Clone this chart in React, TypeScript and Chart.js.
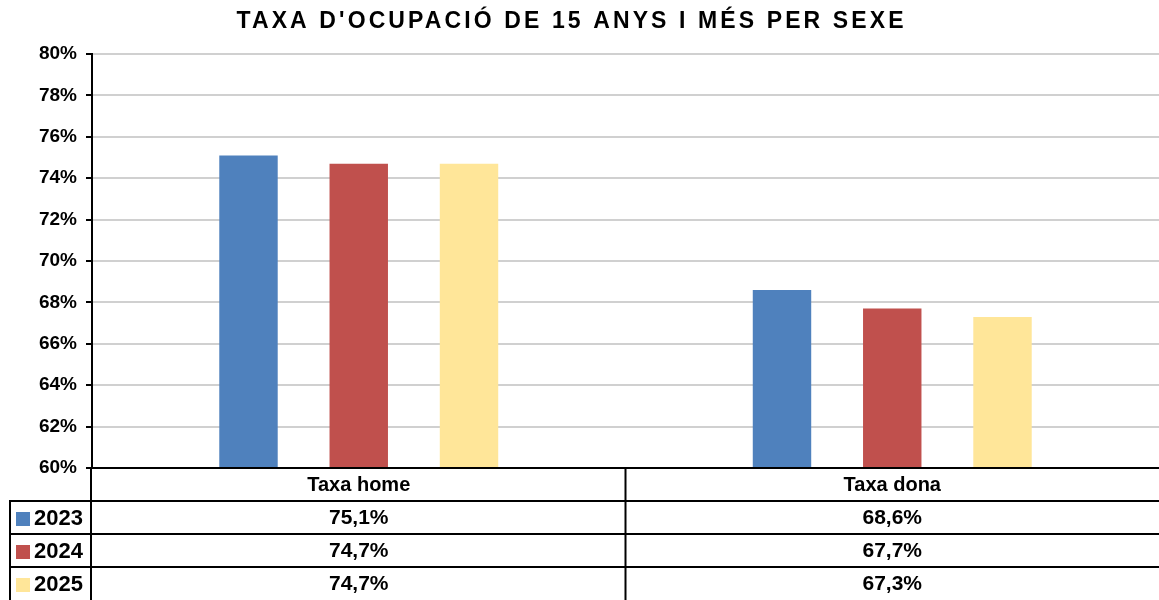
import { useEffect, useRef } from 'react';
import { Chart, registerables } from 'chart.js';

Chart.register(...registerables);

const TITLE = "TAXA D'OCUPACIÓ DE 15 ANYS I MÉS PER SEXE";
const categories = ['Taxa home', 'Taxa dona'];
const seriesLabels = ['2023', '2024', '2025'];
const values2023 = [75.1, 68.6];
const values2024 = [74.7, 67.7];
const values2025 = [74.7, 67.3];
const seriesValues = [values2023, values2024, values2025];
const seriesColors = ['#4F81BD', '#C0504D', '#FFE699'];
const yMin = 60;
const yMax = 80;
const yStep = 2;

const FONT = '"Liberation Sans", Arial, sans-serif';

const fmt = (v: number) => v.toFixed(1).replace('.', ',') + '%';

const tablePlugin = {
  id: 'tablePlugin',
  afterDraw(chart: any) {
    const ctx = chart.ctx as CanvasRenderingContext2D;
    const { left, bottom } = chart.chartArea;
    const xs = chart.scales.x;
    const W = chart.width;
    const H = chart.height;

    // Title with letter spacing
    ctx.save();
    ctx.font = `bold 23px ${FONT}`;
    ctx.fillStyle = '#000';
    ctx.textBaseline = 'alphabetic';
    ctx.textAlign = 'left';
    (ctx as any).letterSpacing = '0px';
    const natural = ctx.measureText(TITLE).width;
    const targetW = 667;
    const n = TITLE.length;
    const ls = (targetW - natural) / (n - 1);
    (ctx as any).letterSpacing = `${ls}px`;
    ctx.fillText(TITLE, 570 - targetW / 2, 28);
    (ctx as any).letterSpacing = '0px';
    ctx.restore();

    // Table
    const rowH = (H - bottom) / 4;
    const boundaries: number[] = [];
    for (let i = 1; i < categories.length; i++) {
      boundaries.push((xs.getPixelForValue(i - 1) + xs.getPixelForValue(i)) / 2);
    }
    const legendLeft = 10;

    ctx.save();
    ctx.strokeStyle = '#000';
    ctx.lineWidth = 2;
    ctx.beginPath();
    ctx.moveTo(left - 1, bottom);
    ctx.lineTo(W, bottom);
    for (let r = 1; r < 4; r++) {
      const y = Math.round(bottom + r * rowH);
      ctx.moveTo(legendLeft - 1, y);
      ctx.lineTo(W, y);
    }
    ctx.moveTo(left - 1, bottom);
    ctx.lineTo(left - 1, H);
    ctx.moveTo(legendLeft, Math.round(bottom + rowH));
    ctx.lineTo(legendLeft, H);
    boundaries.forEach((bx) => {
      ctx.moveTo(bx, bottom);
      ctx.lineTo(bx, H);
    });
    ctx.stroke();

    ctx.fillStyle = '#000';
    ctx.font = `bold 20px ${FONT}`;
    ctx.textBaseline = 'middle';
    ctx.textAlign = 'center';
    categories.forEach((c, i) => {
      ctx.fillText(c, xs.getPixelForValue(i), bottom + rowH / 2 + 1);
    });
    seriesLabels.forEach((lab, s) => {
      const yc = bottom + (s + 1) * rowH + rowH / 2 + 1;
      ctx.fillStyle = seriesColors[s];
      ctx.fillRect(16, Math.round(yc - 7), 14, 14);
      ctx.fillStyle = '#000';
      ctx.textAlign = 'left';
      ctx.font = `bold 22px ${FONT}`;
      ctx.fillText(lab, 34, yc);
      ctx.textAlign = 'center';
      ctx.font = `bold 21px ${FONT}`;
      seriesValues[s].forEach((v, i) => {
        ctx.fillText(fmt(v), xs.getPixelForValue(i), yc);
      });
    });
    ctx.restore();
  },
};

export default function App() {
  const ref = useRef<HTMLCanvasElement | null>(null);

  useEffect(() => {
    document.body.style.margin = '0';
    if (!ref.current) return;
    const chart = new Chart(ref.current, {
      type: 'bar',
      data: {
        labels: categories,
        datasets: seriesLabels.map((lab, s) => ({
          label: lab,
          data: seriesValues[s],
          backgroundColor: seriesColors[s],
          borderWidth: 0,
          barPercentage: 0.53,
          categoryPercentage: 0.62,
        })),
      },
      options: {
        responsive: false,
        animation: false,
        devicePixelRatio: 1,
        layout: { padding: { top: 54, bottom: 132, left: 0, right: 0 } },
        plugins: {
          legend: { display: false },
          title: { display: false },
          tooltip: { enabled: false },
        },
        scales: {
          x: {
            display: false,
            offset: true,
          },
          y: {
            min: yMin,
            max: yMax,
            afterFit: (scale: any) => {
              scale.width = 92;
            },
            ticks: {
              stepSize: yStep,
              padding: 9,
              color: '#000',
              font: { family: FONT, size: 19, weight: 'bold' },
              callback: (v: any) => `${v}%`,
            },
            grid: {
              color: '#d0d0d0',
              lineWidth: 2,
              tickColor: '#000',
              tickLength: 6,
              drawTicks: true,
            },
            border: { display: true, color: '#000', width: 2 },
          },
        },
      },
      plugins: [tablePlugin],
    });
    return () => chart.destroy();
  }, []);

  return (
    <div style={{ width: 1159, height: 600, background: '#fff' }}>
      <canvas ref={ref} width={1159} height={600} />
    </div>
  );
}
